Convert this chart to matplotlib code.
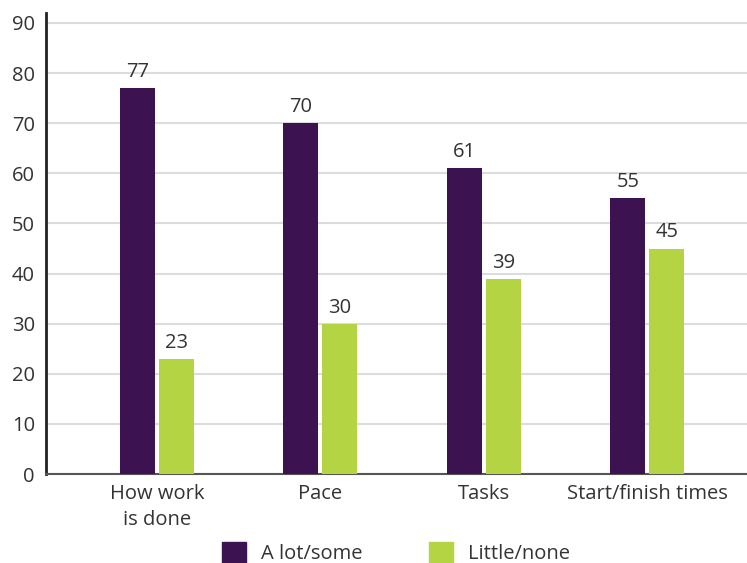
import numpy as np
import matplotlib.pyplot as plt
from matplotlib.patches import Patch

# Daten
categories = ['How work\nis done', 'Pace', 'Tasks', 'Start/finish times']
a_lot_some = [77, 70, 61, 55]
little_none = [23, 30, 39, 45]
series_names = ['A lot/some', 'Little/none']

purple = '#3d1250'
green = '#b5d443'
text_col = '#333333'

plt.rcParams['font.family'] = ['Open Sans', 'DejaVu Sans']

fig = plt.figure(figsize=(7.47, 5.63), dpi=100)
ax = fig.add_axes([0.0616, 0.158, 0.9384, 0.819])

x = np.arange(len(categories))
w = 0.214
off = 0.119
fs = 14.5

b1 = ax.bar(x - off, a_lot_some, width=w, color=purple, zorder=3)
b2 = ax.bar(x + off, little_none, width=w, color=green, zorder=3)

for bars, vals in [(b1, a_lot_some), (b2, little_none)]:
    for rect, v in zip(bars, vals):
        ax.text(rect.get_x() + rect.get_width() / 2, v + 1.2, f'{v}',
                ha='center', va='bottom', fontsize=fs, color=text_col)

ax.set_xlim(-0.679, 3.61)
ax.set_ylim(0, 92)
ax.set_yticks(range(0, 91, 10))
ax.set_xticks(x)
ax.set_xticklabels(categories, fontsize=fs, color=text_col, linespacing=1.4)
ax.tick_params(axis='y', length=0, labelsize=fs, labelcolor=text_col, pad=8)
ax.tick_params(axis='x', length=0, pad=7)

ax.yaxis.grid(True, color='#dcdcdc', linewidth=1.5, zorder=0)
ax.set_axisbelow(True)

for s in ['top', 'right']:
    ax.spines[s].set_visible(False)
ax.spines['left'].set_color('#222222')
ax.spines['left'].set_linewidth(2)
ax.spines['bottom'].set_color('#555555')
ax.spines['bottom'].set_linewidth(1.5)

handles = [Patch(color=purple), Patch(color=green)]
fig.legend(handles, series_names, loc='lower center', ncol=2, frameon=False,
           fontsize=fs, bbox_to_anchor=(0.53, -0.034), handlelength=1.2,
           handleheight=1.2, columnspacing=3.3, handletextpad=0.75,
           labelcolor=text_col)

plt.savefig('out.png', dpi=100)
